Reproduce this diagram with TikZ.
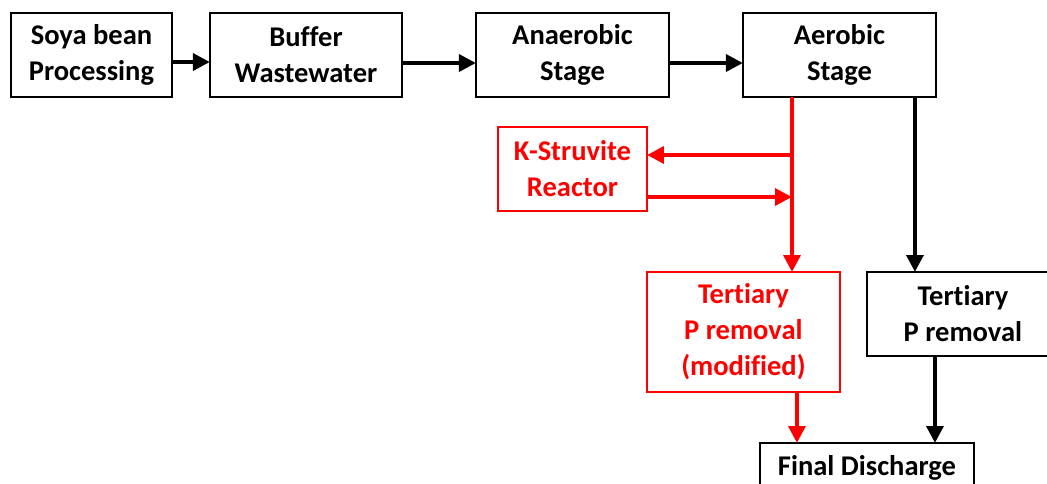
\documentclass[tikz,border=0pt]{standalone}
\usepackage{fontspec}
\setmainfont{Carlito}[Ligatures=NoCommon]
\usetikzlibrary{arrows.meta,positioning}
\definecolor{pred}{HTML}{FF0000}
\tikzset{
    > = {Triangle[length=12.75pt,width=12.5pt]},
    stage/.style = {
        draw = black,
        rectangle,
        line width = 1.7pt,
        inner sep = 0pt,
        outer sep = 0pt,
        minimum height = 63pt,
        align = center,
        font = \fontsize{21.4}{27}\selectfont\bfseries,
        text = black
    },
    redstage/.style = {
        stage,
        draw = pred,
        text = pred
    },
    flow/.style = {
        ->,
        line width = 3.3pt,
        draw = black
    },
    redflow/.style = {
        flow,
        draw = pred
    }
}

\begin{document}
\begin{tikzpicture}
\useasboundingbox (0,0) rectangle (785.25pt,-362.25pt);
%main line
    \node (SP) [stage, minimum width=120.75pt] at (68.6pt,-41.25pt) {Soya bean\\Processing};
    \node (BW) [stage, right = 28.5pt of SP, minimum width=144pt] {Buffer\\Wastewater};
    \node (AN) [stage, right = 55.5pt of BW, minimum width=144.75pt] {Anaerobic\\Stage};
    \node (AE) [stage, right = 55.5pt of AN, minimum width=144.75pt] {Aerobic\\Stage};
%modified branch
    \node (KS) [redstage, below = 22.5pt of AN, minimum width=111.75pt] {K-Struvite\\Reactor};
    \node (TM) [redstage, below right = 45.75pt and 0pt of KS.south east, anchor=north west, minimum width=144.75pt, minimum height=90pt] {Tertiary\\P removal\\(modified)};
%conventional branch
    \node (TP) [stage, below right = 0pt and 20.25pt of TM.north east, anchor=north west, minimum width=144pt] {Tertiary\\P removal};
    \node (FD) [stage, below right = 38.25pt and 84.75pt of TM.south west, anchor=north west, minimum width=160.5pt, minimum height=37.5pt] {Final Discharge};

    \draw[flow] ([yshift=-5.25pt]SP.east) -- ([yshift=-5.25pt]BW.west);
    \draw[flow] ([yshift=-6pt]BW.east) -- ([yshift=-6pt]AN.west);
    \draw[flow] ([yshift=-6pt]AN.east) -- ([yshift=-6pt]AE.west);

%split points
    \coordinate (split) at ([xshift=-35.6pt]AE.south);
    \coordinate (blk) at ([xshift=56.6pt]AE.south);
    \coordinate (ksin) at ([yshift=10.5pt]KS.east);
    \coordinate (ksout) at ([yshift=-21pt]KS.east);
    \coordinate (tmout) at ([xshift=40.1pt]TM.south);
    \coordinate (tpout) at ([xshift=-21pt]TP.south);

    \draw[redflow] (split) -- (split |- TM.north);
    \draw[redflow] (split |- ksin) -- (ksin);
    \draw[redflow] (ksout) -- (split |- ksout);
    \draw[redflow] (tmout) -- (tmout |- FD.north);
    \draw[flow] (blk) -- (blk |- TP.north);
    \draw[flow] (tpout) -- (tpout |- FD.north);
\end{tikzpicture}
\end{document}
